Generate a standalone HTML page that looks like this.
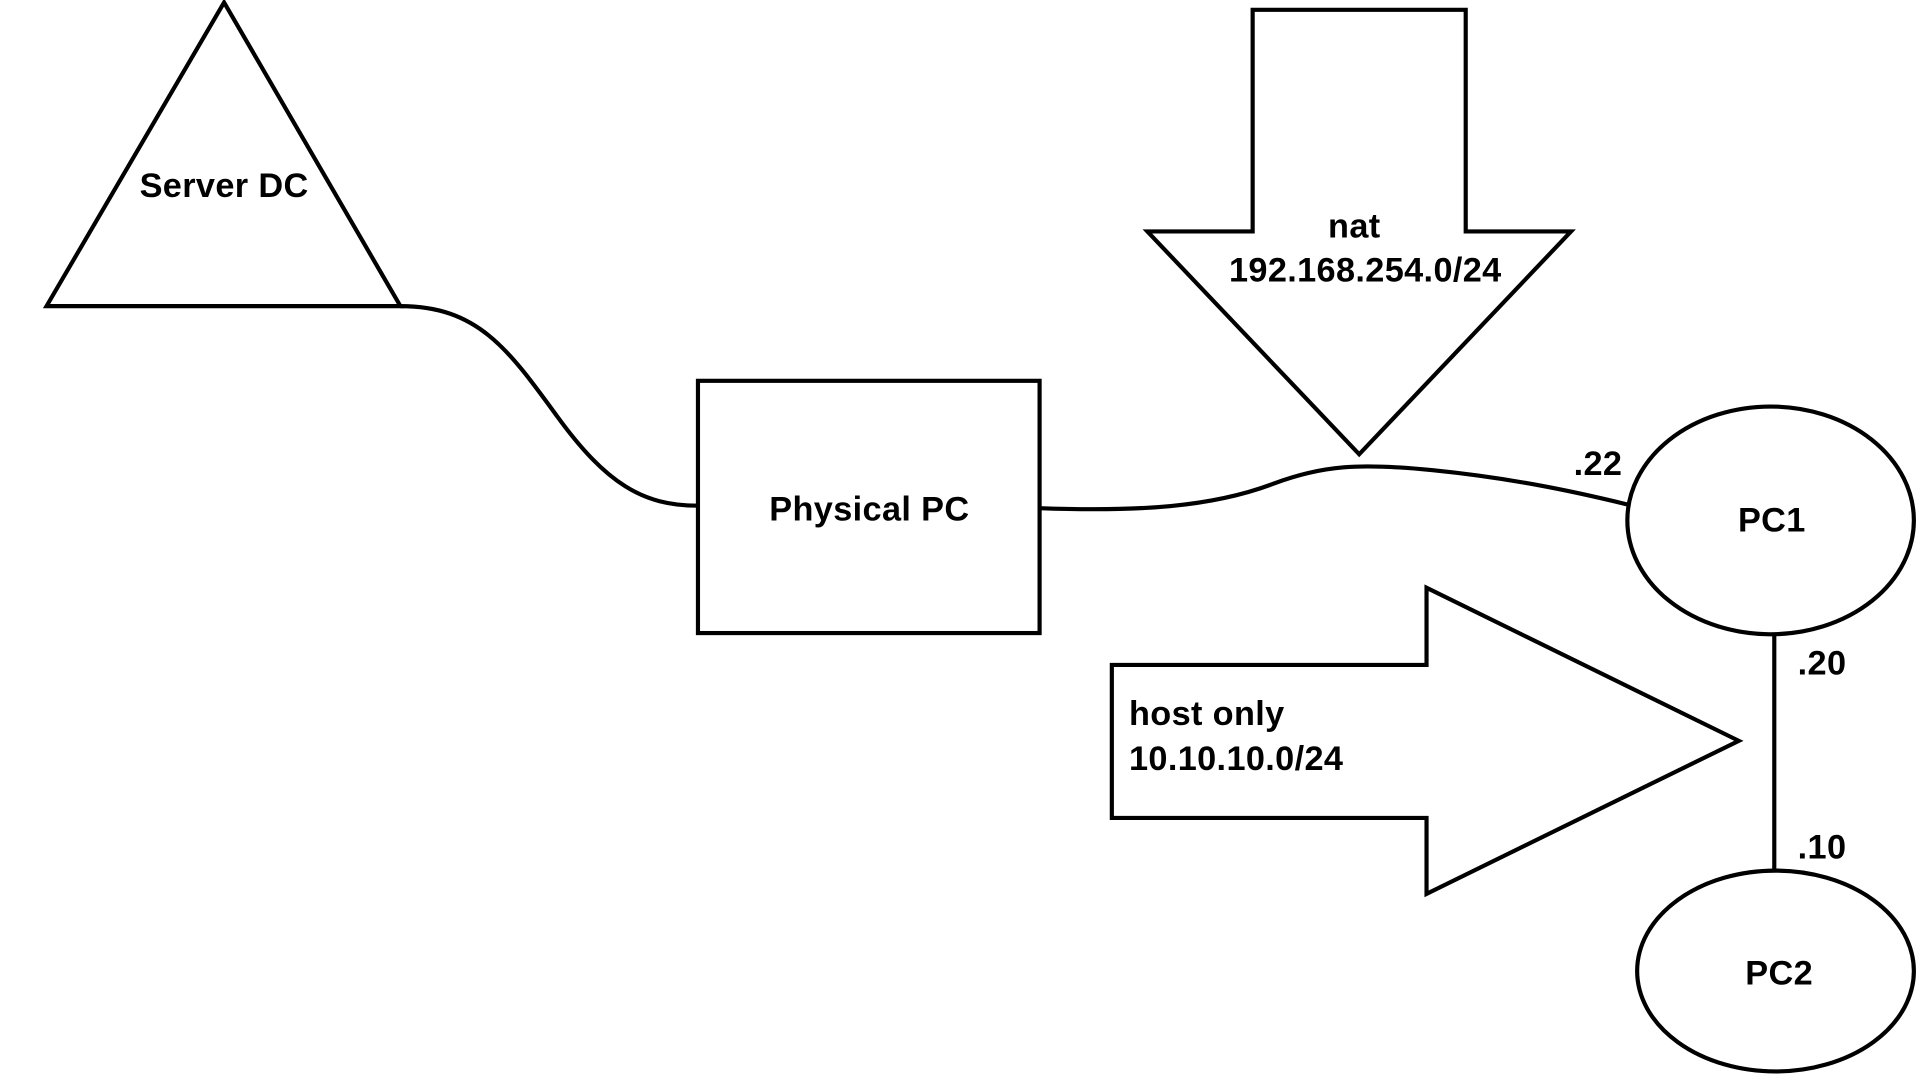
<!DOCTYPE html>
<html><head><meta charset="utf-8"><style>html,body{margin:0;padding:0;background:#fff;width:1920px;height:1080px;overflow:hidden}</style></head>
<body>
<svg width="1920" height="1080" viewBox="0 0 1568 882" preserveAspectRatio="none" xmlns="http://www.w3.org/2000/svg">
<g fill="none" stroke="#000" stroke-width="3.4" stroke-linejoin="miter">
<polygon points="183,2 38,250 327,250"/>
<path d="M327,250 C390,250 415,285 455,340 C495,395 525,413 570,413"/>
<rect x="570" y="311" width="279" height="206"/>
<path d="M849,415 C930,418 990,414 1040,395 C1080,380 1110,378 1170,384 C1230,390 1280,400 1329,412"/>
<polygon points="1023,8 1197,8 1197,189 1283,189 1110,371 937,189 1023,189"/>
<ellipse cx="1446" cy="425" rx="117" ry="93"/>
<line x1="1449" y1="519" x2="1449" y2="712"/>
<ellipse cx="1450" cy="793" rx="113" ry="82"/>
<polygon points="908,543 1165,543 1165,480 1420,605 1165,730 1165,668 908,668"/>
</g>
<g font-family="'Liberation Sans', sans-serif" font-weight="bold" font-size="28" letter-spacing="0.3" fill="#000">
<text x="183" y="161" text-anchor="middle">Server DC</text>
<text x="710" y="425" text-anchor="middle">Physical PC</text>
<text x="1106" y="194" text-anchor="middle">nat</text>
<text x="1115" y="230" text-anchor="middle">192.168.254.0/24</text>
<text x="1305" y="388" text-anchor="middle">.22</text>
<text x="1447" y="434" text-anchor="middle">PC1</text>
<text x="1488" y="551" text-anchor="middle">.20</text>
<text x="1488" y="701" text-anchor="middle">.10</text>
<text x="1453" y="804" text-anchor="middle">PC2</text>
<text x="922" y="592">host only</text>
<text x="922" y="629">10.10.10.0/24</text>
</g>
</svg>
</body></html>
